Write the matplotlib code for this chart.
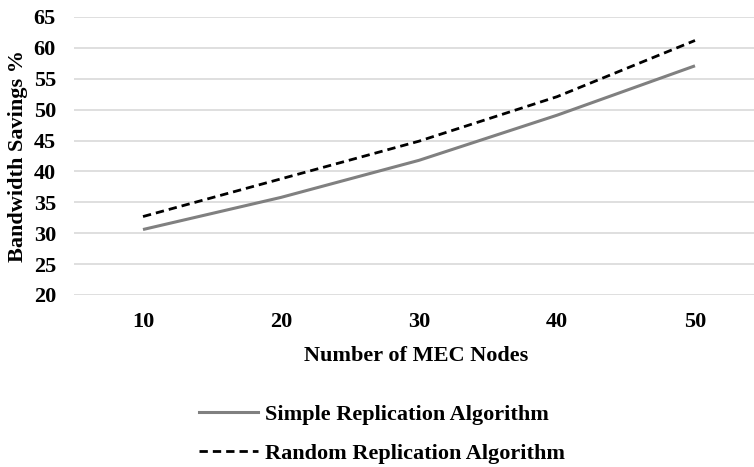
import matplotlib
matplotlib.use("Agg")
import matplotlib.pyplot as plt
from matplotlib.lines import Line2D

nodes = [10, 20, 30, 40, 50]
simple = [30.6, 35.8, 41.8, 49.1, 57.1]
random_rep = [32.7, 38.8, 44.9, 52.1, 61.2]
yticks = [20, 25, 30, 35, 40, 45, 50, 55, 60, 65]

plt.rcParams['font.family'] = ['Liberation Serif', 'DejaVu Serif']
plt.rcParams['font.weight'] = 'bold'

FS = 16
fig = plt.figure(figsize=(7.54, 4.67), dpi=100)
W, H = 754, 467
left, right, top, bottom = 74, 754, 17, 295
ax = fig.add_axes([left / W, 1 - bottom / H, (right - left) / W, (bottom - top) / H])

dash = (0, (3.0, 1.8))
ax.plot(nodes, simple, color='#808080', lw=2.2, solid_capstyle='butt')
ax.plot(nodes, random_rep, color='black', lw=2.0, ls=dash)

ax.set_ylim(20, 65)
ax.set_xlim(5, 5 + (right - left) / 138 * 10)
ax.set_yticks(yticks)
ax.set_xticks(nodes)
ax.set_xticklabels([str(n) for n in nodes], fontsize=FS, fontweight='bold')
ax.set_yticklabels([str(v) for v in yticks], fontsize=FS, fontweight='bold')
ax.grid(axis='y', color='#d9d9d9', lw=1.2)
ax.set_axisbelow(True)
for s in ax.spines.values():
    s.set_visible(False)
ax.tick_params(axis='y', length=0, pad=13)
ax.tick_params(axis='x', length=0, pad=12)

ax.set_ylabel('Bandwidth Savings %', fontsize=FS, fontweight='bold', labelpad=4)
fig.text(416 / W, 1 - 356 / H, 'Number of MEC Nodes', ha='center', va='center',
         fontsize=FS, fontweight='bold')

handles = [Line2D([], [], color='#808080', lw=2.2),
           Line2D([], [], color='black', lw=2.0, ls=dash)]
fig.legend(handles, ['Simple Replication Algorithm', 'Random Replication Algorithm'],
           loc='center left', bbox_to_anchor=(199 / W, 1 - 434 / H), frameon=False,
           prop={'size': FS, 'weight': 'bold'}, handlelength=2.65, labelspacing=0.85,
           handletextpad=0.3, borderpad=0, borderaxespad=0)

fig.savefig('out.png', dpi=100)
